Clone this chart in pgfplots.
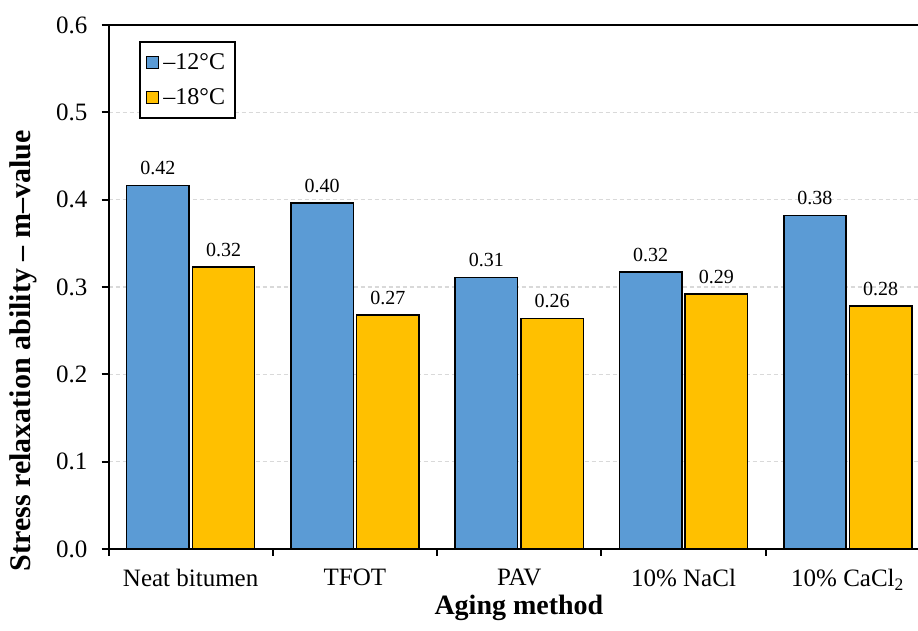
\documentclass[border=0pt]{standalone}
\usepackage{fontspec}
\setmainfont{Liberation Serif}
\usepackage{pgfplots}
\pgfplotsset{compat=1.18}
\usetikzlibrary{calc}
\definecolor{cblue}{HTML}{5B9BD5}
\definecolor{cgold}{HTML}{FFC000}
\definecolor{cgrid}{HTML}{D9D9D9}
\begin{document}
\begin{tikzpicture}
\begin{axis}[
    scale only axis,
    width=404.75pt, height=262pt,
    xmin=-0.5, xmax=4.427,
    ymin=0, ymax=0.6,
    ybar, bar width=0.38,
    axis x line*=bottom, axis y line*=left,
    axis line style={-, line width=1pt},
    tick align=outside,
    major tick length=3.5pt,
    tick style={black, line width=1pt},
    /pgf/number format/assume math mode=true,
    ytick={0,0.1,0.2,0.3,0.4,0.5,0.6},
    yticklabel style={font=\fontsize{12.5}{14}\selectfont, xshift=-3.5pt,
        /pgf/number format/.cd, fixed, fixed zerofill, precision=1},
    xtick={-0.5,0.5,1.5,2.5,3.5},
    xticklabels={},
    extra x ticks={0,1,2,3,4},
    extra x tick labels={Neat bitumen, TFOT, PAV, 10\% NaCl, 10\% CaCl\textsubscript{2}},
    extra x tick style={major tick length=0pt, grid=none,
        xticklabel style={font=\fontsize{12.5}{14}\selectfont, yshift=-9pt, inner ysep=1pt}},
    ymajorgrids,
    grid style={cgrid, dash pattern=on 2pt off 1.5pt, line width=0.6pt},
    nodes near coords={\pgfmathprintnumber[fixed,fixed zerofill,precision=2]{\pgfplotspointmeta}},
    nodes near coords style={font=\fontsize{10}{12}\selectfont, black, yshift=1.5pt},
    xlabel={Aging method},
    xlabel style={font=\bfseries\fontsize{14}{16}\selectfont,
        at={(axis description cs:0.507,-0.112)}, anchor=center, inner ysep=1pt},
    ylabel={Stress relaxation ability -- m--value},
    ylabel style={font=\bfseries\fontsize{15}{17}\selectfont,
        at={(axis description cs:-0.1056,0.378)}, anchor=center},
    legend style={at={(0.038,0.969)}, anchor=north west, draw=black,
        line width=1pt, font=\fontsize{12}{14}\selectfont,
        row sep=4pt, inner xsep=3pt, inner ysep=3.5pt},
    legend image code/.code={\draw[#1, line width=0.6pt] (0pt,-3pt) rectangle (6pt,3pt);},
]
\addplot[fill=cblue, draw=black, line width=0.75pt, bar shift=-0.2]
    coordinates {(0,0.416) (1,0.396) (2,0.311) (3,0.317) (4,0.382)};
\addplot[fill=cgold, draw=black, line width=0.75pt, bar shift=0.2]
    coordinates {(0,0.323) (1,0.268) (2,0.264) (3,0.292) (4,0.278)};
\legend{–12°C, –18°C}
\draw[line width=1pt] (rel axis cs:0,1) -- (rel axis cs:1,1);
\coordinate (sw) at (rel axis cs:0,0);
\coordinate (ne) at (rel axis cs:1,1);
\end{axis}
\pgfresetboundingbox
\path[use as bounding box] ($(sw)+(-54.25pt,-40.5pt)$) rectangle ($(ne)+(0pt,12.5pt)$);
\end{tikzpicture}
\end{document}
